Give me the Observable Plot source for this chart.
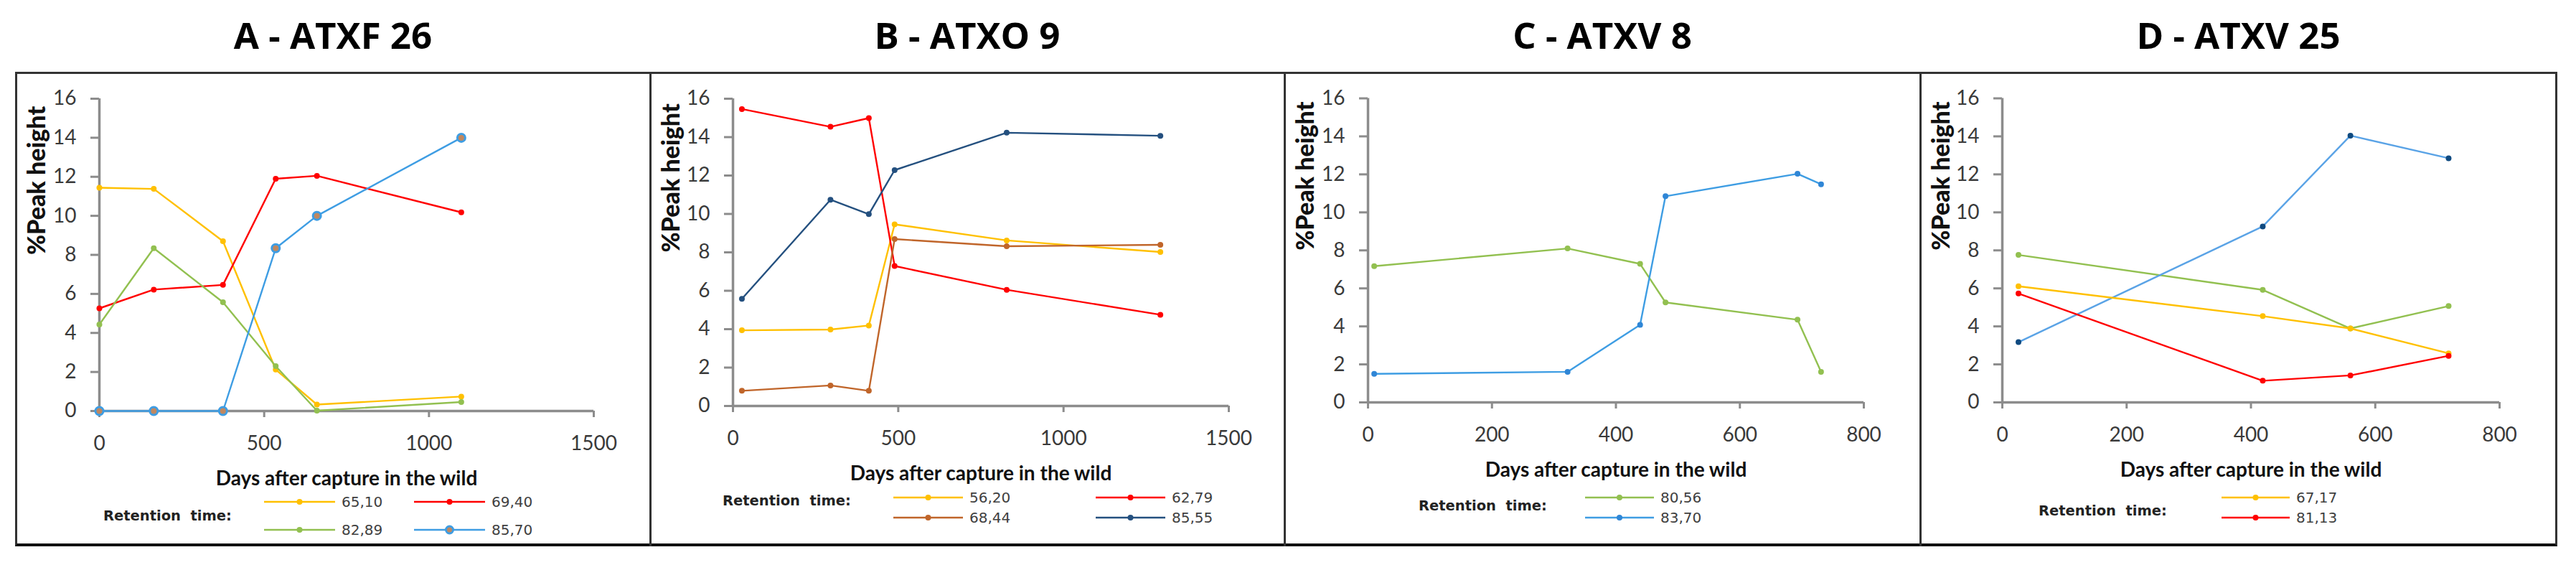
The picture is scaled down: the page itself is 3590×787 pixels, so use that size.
<!DOCTYPE html>
<html>
<head>
<meta charset="utf-8">
<script src="https://cdn.jsdelivr.net/npm/d3@7"></script>
<script src="https://cdn.jsdelivr.net/npm/@observablehq/plot@0.6"></script>
<style>
  html, body { margin: 0; padding: 0; background: #fff; }
  body { width: 3590px; height: 787px; position: relative; overflow: hidden; font-family: Lato, "Open Sans", sans-serif; }
  .abs { position: absolute; }
  .title { top: 0; height: 96px; line-height: 96px; text-align: center; font-family: "Open Sans", sans-serif; font-weight: 700; font-size: 51px; color: #000; white-space: nowrap; }
  .frame { left: 21px; top: 100px; width: 3543px; height: 661px; box-sizing: border-box; border: 3px solid #333; border-bottom: 4px solid #111; }
  .divider { top: 100px; width: 3px; height: 661px; background: #333; }
  .rt { font-family: "DejaVu Sans", Verdana, sans-serif; font-weight: 700; font-size: 19.5px; color: #222; white-space: pre; transform: translateY(-50%); line-height: 1; }
  .item { display: flex; align-items: center; transform: translateY(-50%); }
  .item span { font-family: "DejaVu Sans", Verdana, sans-serif; font-size: 20px; color: #404040; margin-left: 9px; line-height: 1; }
  svg.plot { overflow: visible; }
</style>
</head>
<body>
<div class="abs frame"></div>
<script>
// ---------- data ----------
const titles = ["A - ATXF 26", "B - ATXO 9", "C - ATXV 8", "D - ATXV 25"];
const yTicks = [0, 2, 4, 6, 8, 10, 12, 14, 16];
const xTicks1500 = [0, 500, 1000, 1500];
const xTicks800 = [0, 200, 400, 600, 800];
const yLabel = "%Peak height";
const xLabel = "Days after capture in the wild";
const legendTitle = "Retention  time:";

// Panel A - ATXF 26
const daysA = [0, 165, 375, 535, 660, 1098];
const namesA = ["65,10", "69,40", "82,89", "85,70"];
const a6510 = [11.44, 11.38, 8.70, 2.12, 0.33, 0.74];
const a6940 = [5.26, 6.22, 6.46, 11.90, 12.05, 10.18];
const a8289 = [4.43, 8.34, 5.57, 2.30, 0.02, 0.46];
const a8570 = [0, 0, 0, 8.34, 10.00, 14.00];

// Panel B - ATXO 9
const daysB = [27, 295, 411, 489, 828, 1293];
const namesB = ["56,20", "62,79", "68,44", "85,55"];
const b5620 = [3.94, 3.98, 4.19, 9.46, 8.62, 8.02];
const b6279 = [15.46, 14.54, 14.99, 7.29, 6.05, 4.75];
const b6844 = [0.79, 1.07, 0.79, 8.69, 8.32, 8.39];
const b8555 = [5.58, 10.74, 9.99, 12.28, 14.23, 14.07];

// Panel C - ATXV 8
const daysC = [10, 322, 439, 480, 693, 731];
const namesC = ["80,56", "83,70"];
const c8056 = [7.17, 8.10, 7.29, 5.26, 4.35, 1.61];
const c8370 = [1.50, 1.61, 4.08, 10.85, 12.03, 11.48];

// Panel D - ATXV 25
const daysD = [26, 419, 560, 718];
const namesD = ["67,17", "81,13"];
const d6717 = [6.11, 4.54, 3.89, 2.58];
const d8113 = [5.73, 1.14, 1.42, 2.45];
const dGreen = [7.76, 5.92, 3.89, 5.07];
const dBlue = [3.17, 9.26, 14.04, 12.85];

// ---------- styles ----------
const YEL = "#ffc000", RED = "#ff0000", GRN = "#92c050", LBLUE = "#3e9de3",
      BROWN = "#c0652a", DBLUE = "#24507f", NAVY = "#0f4a80", AX = "#8c8c8c";

const panels = [
  { left: 22, width: 884, title: titles[0], days: daysA, xMax: 1500, xTicks: xTicks1500,
    ml: 116, mr: 79, mt: 35, yBottom: 470,
    series: [
      { name: namesA[0], values: a6510, line: YEL, dot: YEL },
      { name: namesA[1], values: a6940, line: RED, dot: RED },
      { name: namesA[2], values: a8289, line: GRN, dot: GRN },
      { name: namesA[3], values: a8570, line: LBLUE, dot: "#c08860", ring: LBLUE, r: 5.5 }
    ],
    legend: { rt: [144, 719], cols: [368, 577], rows: [699, 738], sw: 99 } },
  { left: 906, width: 884, title: titles[1], days: daysB, xMax: 1500, xTicks: xTicks1500,
    ml: 115, mr: 78, mt: 35, yBottom: 463,
    series: [
      { name: namesB[0], values: b5620, line: YEL, dot: YEL },
      { name: namesB[1], values: b6279, line: RED, dot: RED },
      { name: namesB[2], values: b6844, line: BROWN, dot: BROWN },
      { name: namesB[3], values: b8555, line: DBLUE, dot: DBLUE }
    ],
    legend: { rt: [1007, 698], cols: [1245, 1527], rows: [693, 721], sw: 97 } },
  { left: 1790, width: 886, title: titles[2], days: daysC, xMax: 800, xTicks: xTicks800,
    ml: 116, mr: 79, mt: 34.5, yBottom: 458,
    series: [
      { name: namesC[0], values: c8056, line: GRN, dot: GRN },
      { name: namesC[1], values: c8370, line: LBLUE, dot: "#2f86d6" }
    ],
    legend: { rt: [1977, 705], cols: [2209], rows: [693, 721], sw: 96 } },
  { left: 2676, width: 887, title: titles[3], days: daysD, xMax: 800, xTicks: xTicks800,
    ml: 114, mr: 80, mt: 34.5, yBottom: 458,
    series: [
      { name: null, values: dGreen, line: GRN, dot: GRN },
      { name: null, values: dBlue, line: "#5aa3e6", dot: NAVY },
      { name: namesD[0], values: d6717, line: YEL, dot: YEL },
      { name: namesD[1], values: d8113, line: RED, dot: RED }
    ],
    legendOrder: [2, 3],
    legend: { rt: [2841, 712], cols: [3096], rows: [693, 721], sw: 95 } }
];

const H = 590;
const fmt = d3.format("d");

function makePlot(p) {
  const marks = [
    Plot.axisY({ ticks: yTicks, tickFormat: fmt, tickSize: 12, tickPadding: 20, stroke: AX, strokeWidth: 3, fill: "#3a3a3a", label: null }),
    Plot.axisX({ ticks: p.xTicks, tickFormat: fmt, tickSize: 9, tickPadding: 26, stroke: AX, strokeWidth: 3, fill: "#3a3a3a", label: null }),
    Plot.ruleX([0], { stroke: AX, strokeWidth: 3.5 }),
    Plot.ruleY([0], { stroke: AX, strokeWidth: 3.5 })
  ];
  for (const s of p.series) {
    const data = p.days.map((d, i) => ({ day: d, v: s.values[i] }));
    marks.push(Plot.line(data, { x: "day", y: "v", stroke: s.line, strokeWidth: 2.4 }));
    marks.push(Plot.dot(data, { x: "day", y: "v", r: s.r || 4, fill: s.dot,
      stroke: s.ring || "none", strokeWidth: s.ring ? 3 : 0 }));
  }
  marks.push(Plot.text([yLabel], { text: d => d, frameAnchor: "left", dx: 30 - p.ml, rotate: -90,
    fontSize: 34, fontWeight: 900, fill: "#111", fontFamily: "Lato" }));
  marks.push(Plot.text([xLabel], { text: d => d, frameAnchor: "bottom", dy: 103,
    fontSize: 28, fontWeight: "bold", fill: "#111", fontFamily: "Lato" }));
  return Plot.plot({
    width: p.width, height: H,
    marginLeft: p.ml, marginRight: p.mr, marginTop: p.mt, marginBottom: H - p.yBottom,
    x: { domain: [0, p.xMax] },
    y: { domain: [0, 16] },
    style: { fontFamily: "Lato, sans-serif", fontSize: "28px", background: "transparent", overflow: "visible" },
    marks
  });
}

function swatch(s, w) {
  const NS = "http://www.w3.org/2000/svg";
  const svg = document.createElementNS(NS, "svg");
  svg.setAttribute("width", w); svg.setAttribute("height", 16);
  const l = document.createElementNS(NS, "line");
  l.setAttribute("x1", 0); l.setAttribute("x2", w); l.setAttribute("y1", 8); l.setAttribute("y2", 8);
  l.setAttribute("stroke", s.line); l.setAttribute("stroke-width", 2.6);
  svg.appendChild(l);
  const c = document.createElementNS(NS, "circle");
  c.setAttribute("cx", w / 2); c.setAttribute("cy", 8); c.setAttribute("r", s.r ? 5 : 4);
  c.setAttribute("fill", s.dot);
  if (s.ring) { c.setAttribute("stroke", s.ring); c.setAttribute("stroke-width", 3); }
  svg.appendChild(c);
  return svg;
}

// dividers between panels
for (const x of [905, 1789, 2675]) {
  const d = document.createElement("div");
  d.className = "abs divider"; d.style.left = x + "px";
  document.body.appendChild(d);
}

for (const p of panels) {
  const t = document.createElement("div");
  t.className = "abs title";
  t.style.left = p.left + "px"; t.style.width = p.width + "px";
  t.textContent = p.title;
  document.body.appendChild(t);

  const wrap = document.createElement("div");
  wrap.className = "abs";
  wrap.style.left = p.left + "px"; wrap.style.top = "102px";
  wrap.appendChild(makePlot(p));
  document.body.appendChild(wrap);

  // legend (below the chart)
  const rt = document.createElement("div");
  rt.className = "abs rt";
  rt.style.left = p.legend.rt[0] + "px"; rt.style.top = p.legend.rt[1] + "px";
  rt.textContent = legendTitle;
  document.body.appendChild(rt);

  const order = p.legendOrder || p.series.map((_, i) => i);
  const ncol = p.legend.cols.length;
  order.forEach((si, k) => {
    const s = p.series[si];
    const it = document.createElement("div");
    it.className = "abs item";
    it.style.left = p.legend.cols[k % ncol] + "px";
    it.style.top = p.legend.rows[Math.floor(k / ncol)] + "px";
    it.appendChild(swatch(s, p.legend.sw));
    const sp = document.createElement("span");
    sp.textContent = s.name;
    it.appendChild(sp);
    document.body.appendChild(it);
  });
}
</script>
</body>
</html>
